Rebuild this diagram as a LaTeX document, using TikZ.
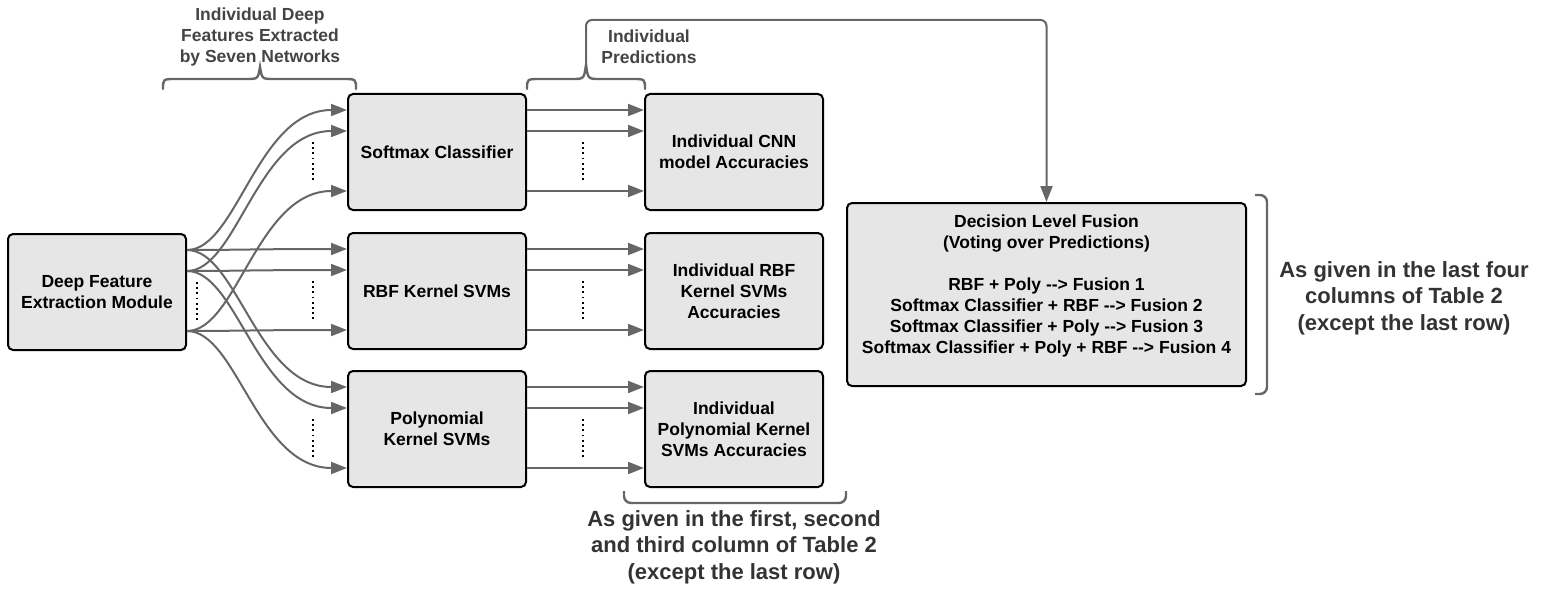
\documentclass[tikz,border=0pt]{standalone}
\usepackage{fontspec}
\setmainfont{Liberation Sans}
\usetikzlibrary{arrows.meta,calc}
\definecolor{boxfill}{HTML}{E6E6E6}
\definecolor{linegray}{HTML}{666666}
\definecolor{labgray}{HTML}{444444}
\definecolor{notegray}{HTML}{333333}
\newcommand\darr{-\kern0pt-\kern0pt>}
\begin{document}
\begin{tikzpicture}[x=1pt,y=-1pt,
  box/.style={draw=black, line width=2pt, fill=boxfill, rounded corners=5pt,
    minimum width=178pt, minimum height=116pt, align=center, inner sep=0pt,
    font=\fontsize{17.5}{21}\selectfont\bfseries},
  arr/.style={draw=linegray, line width=2pt, -{Triangle[length=16pt,width=12pt]}},
  dotln/.style={draw=black, line width=1.8pt, dash pattern=on 1.8pt off 3.4pt},
  brace/.style={draw=linegray, line width=2.4pt, rounded corners=7pt},
  lab/.style={text=labgray, align=center, font=\fontsize{17.5}{21}\selectfont\bfseries},
  note/.style={text=notegray, align=center, font=\fontsize{22}{26.5}\selectfont\bfseries}]
\useasboundingbox (0,0) rectangle (1545,591);

% boxes
\node[box] (deep) at (97,292) {Deep Feature\\Extraction Module};
\node[box] (soft) at (437,152) {Softmax Classifier};
\node[box] (rbf)  at (437,291) {RBF Kernel SVMs};
\node[box] (poly) at (437,429) {Polynomial\\Kernel SVMs};
\node[box] (cnn)  at (734,152) {Individual CNN\\model Accuracies};
\node[box] (racc) at (734,291) {Individual RBF\\Kernel SVMs\\Accuracies};
\node[box] (pacc) at (734,429) {Individual\\Polynomial Kernel\\SVMs Accuracies};
\node[box, minimum width=399pt, minimum height=183pt] (fusion) at (1046.5,294.5)
  {Decision Level Fusion\\(Voting over Predictions)\\[21pt]
   RBF + Poly \darr{} Fusion 1\\
   Softmax Classifier + RBF \darr{} Fusion 2\\
   Softmax Classifier + Poly \darr{} Fusion 3\\
   Softmax Classifier + Poly + RBF \darr{} Fusion 4\\ \mbox{}};

% anchor coordinates
\foreach \n in {deep,soft,rbf,poly,cnn,racc,pacc}{
  \coordinate (\n-o1) at ([yshift=42pt]\n.east);
  \coordinate (\n-o2) at ([yshift=21pt]\n.east);
  \coordinate (\n-o3) at ([yshift=-39pt]\n.east);
  \coordinate (\n-i1) at ([yshift=42pt]\n.west);
  \coordinate (\n-i2) at ([yshift=21pt]\n.west);
  \coordinate (\n-i3) at ([yshift=-39pt]\n.west);
}

% feature arrows (curved)
\foreach \t in {soft,rbf,poly}{
  \foreach \k in {1,2,3}{
    \draw[arr] (deep-o\k) .. controls +(50,0) and +(-90,0) .. (\t-i\k);
  }
}
% prediction arrows
\foreach \a/\b in {soft/cnn,rbf/racc,poly/pacc}{
  \foreach \k in {1,2,3}{
    \draw[arr] (\a-o\k) -- (\b-i\k);
  }
  \draw[dotln] ([shift={(-34pt,10pt)}]\a.west) -- ([shift={(-34pt,-29pt)}]\a.west);
  \draw[dotln] ([shift={(56pt,10pt)}]\a.east) -- ([shift={(56pt,-29pt)}]\a.east);
}
\draw[dotln] ([shift={(10pt,10pt)}]deep.east) -- ([shift={(10pt,-29pt)}]deep.east);

% top-left brace
\draw[linegray, line width=2.4pt, line cap=round]
  (163,89) .. controls (163,79) .. (176,79) -- (246,79)
  .. controls (258,79) .. (260,67) .. controls (262,79) .. (274,79) -- (343,79)
  .. controls (356,79) .. (356,89);
\node[lab] (featlab) at (260,37) {Individual Deep\\Features Extracted\\by Seven Networks};

% prediction brace and connector to fusion
\draw[linegray, line width=2.4pt, line cap=round]
  (527,89) .. controls (527,79) .. (540,79) -- (572,79)
  .. controls (584,79) .. (586,65) .. controls (588,79) .. (600,79) -- (632,79)
  .. controls (645,79) .. (645,89);
\coordinate (ptip) at (586,66);
\coordinate (ptop) at (586,20);
\draw[arr, rounded corners=6pt] (ptip) -- (ptop) -| (fusion.north);
\node[lab] (predlab) at (649,47) {Individual\\Predictions};

% bottom bracket
\draw[brace] (624,491) -- (624,503) -- (846,503) -- (846,491);
\node[note] (botnote) at (734,547) {As given in the first, second\\and third column of Table 2\\(except the last row)};

% right bracket
\draw[brace] (1255,195) -- (1267,195) -- (1267,394) -- (1255,394);
\node[note] (rightnote) at (1404,298) {As given in the last four\\columns of Table 2\\(except the last row)};
\end{tikzpicture}
\end{document}
